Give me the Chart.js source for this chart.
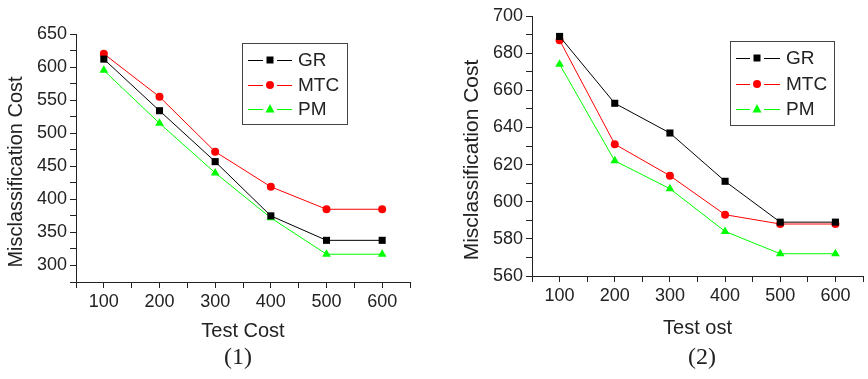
<!DOCTYPE html>
<html>
<head>
<meta charset="utf-8">
<script src="https://cdn.jsdelivr.net/npm/chart.js@4.4.0/dist/chart.umd.min.js"></script>
<style>
  body { margin: 0; background: #fff; }
  .box { position: absolute; top: 0; width: 434px; height: 379px; }
</style>
</head>
<body>
<div class="box" style="left:0"><canvas id="grafico1"></canvas></div>
<div class="box" style="left:434px"><canvas id="grafico2"></canvas></div>
<script>
// data
const testCost = [100, 200, 300, 400, 500, 600];
const seriesNames = ['GR', 'MTC', 'PM'];

const gr1 = [612, 534, 457, 375, 338, 338];
const mtc1 = [620, 555, 472, 419, 385, 385];
const pm1 = [595, 515, 440, 372, 317, 317];

const gr2 = [689, 653, 637, 611, 589, 589];
const mtc2 = [687, 631, 614, 593, 588, 588];
const pm2 = [674, 622, 607, 584, 572, 572];

const yTitle = 'Misclassification Cost';
const xTitle1 = 'Test Cost';
const xTitle2 = 'Test ost';
const caption1 = '(1)';
const caption2 = '(2)';

const colors = ['#000000', '#ff0000', '#00ff00'];
const markers = ['rect', 'circle', 'triangle'];
const ink = '#222';
const sans = "'Liberation Sans', Arial, sans-serif";

function drawMarker(ctx, style, x, y, color) {
    ctx.fillStyle = color;
    ctx.beginPath();
    if (style === 'rect') {
        ctx.rect(x - 3.5, y - 3.5, 7, 7);
    } else if (style === 'circle') {
        ctx.arc(x, y, 4, 0, Math.PI * 2);
    } else {
        ctx.moveTo(x, y - 5);
        ctx.lineTo(x + 4.5, y + 3.5);
        ctx.lineTo(x - 4.5, y + 3.5);
        ctx.closePath();
    }
    ctx.fill();
}

// legend box, y title and caption
const extrasPlugin = {
    id: 'extras',
    afterDraw(chart, args, opts) {
        const ctx = chart.ctx;
        ctx.save();
        // legend
        const b = opts.box;
        ctx.strokeStyle = '#444';
        ctx.lineWidth = 1;
        ctx.strokeRect(b.left + 0.5, b.top + 0.5, b.right - b.left, b.bottom - b.top);
        ctx.font = '19px ' + sans;
        ctx.textBaseline = 'middle';
        ctx.textAlign = 'left';
        chart.data.datasets.forEach((ds, i) => {
            const y = b.rows[i];
            ctx.strokeStyle = ds.borderColor;
            ctx.beginPath();
            ctx.moveTo(b.x0, y + 0.5);
            ctx.lineTo(b.xm - 7, y + 0.5);
            ctx.moveTo(b.xm + 7, y + 0.5);
            ctx.lineTo(b.x1, y + 0.5);
            ctx.stroke();
            drawMarker(ctx, markers[i], b.xm, y, ds.borderColor);
            ctx.fillStyle = ink;
            ctx.fillText(ds.label, b.textX, y + 1);
        });
        // y title
        ctx.fillStyle = ink;
        ctx.font = opts.yFont + 'px ' + sans;
        ctx.textAlign = 'center';
        ctx.translate(opts.yX, opts.yY);
        ctx.rotate(-Math.PI / 2);
        ctx.fillText(yTitle, 0, 0);
        ctx.restore();
        // caption
        ctx.save();
        ctx.fillStyle = ink;
        ctx.font = "24px 'Liberation Serif', 'Times New Roman', serif";
        ctx.textAlign = 'center';
        ctx.textBaseline = 'middle';
        ctx.fillText(opts.caption, opts.capX, opts.capY);
        ctx.restore();
    }
};

function createLineChart(canvasId, seriesList, yMin, yMax, yStep, yLabelStep, xTitle, pad, axisW, axisH, xTitlePad, extras) {
    const ctx = document.getElementById(canvasId).getContext('2d');
    new Chart(ctx, {
        type: 'line',
        data: {
            datasets: seriesList.map((values, i) => ({
                label: seriesNames[i],
                data: testCost.map((c, j) => ({ x: c, y: values[j] })),
                borderColor: colors[i],
                backgroundColor: colors[i],
                borderWidth: 1,
                pointStyle: markers[i],
                pointRadius: i === 1 ? 4 : 5,
                pointBorderWidth: 0,
                fill: false,
                tension: 0
            }))
        },
        options: {
            responsive: true,
            maintainAspectRatio: false,
            animation: false,
            layout: { padding: pad },
            plugins: {
                legend: { display: false },
                tooltip: { enabled: false },
                extras: extras
            },
            scales: {
                x: {
                    type: 'linear',
                    min: 50,
                    max: 650,
                    afterFit: s => { s.height = axisH; },
                    border: { display: true, color: ink, width: 1 },
                    grid: { drawOnChartArea: false, drawTicks: true, tickLength: 6, color: ink },
                    ticks: {
                        stepSize: 50,
                        autoSkip: false,
                        maxRotation: 0,
                        padding: 3,
                        color: ink,
                        font: { family: sans, size: 18 },
                        callback: v => testCost.includes(v) ? String(v) : ''
                    },
                    title: {
                        display: true,
                        text: xTitle,
                        color: ink,
                        font: { family: sans, size: 20 },
                        padding: { top: 0, bottom: xTitlePad }
                    }
                },
                y: {
                    min: yMin,
                    max: yMax,
                    afterFit: s => { s.width = axisW; },
                    border: { display: true, color: ink, width: 1 },
                    grid: { drawOnChartArea: false, drawTicks: true, tickLength: 6, color: ink },
                    ticks: {
                        stepSize: yStep,
                        autoSkip: false,
                        padding: 3,
                        color: ink,
                        font: { family: sans, size: 18 },
                        callback: v => v % yLabelStep === 0 ? String(v) : ''
                    }
                }
            }
        },
        plugins: [extrasPlugin]
    });
}

createLineChart('grafico1', [gr1, mtc1, pm1], 275, 650, 25, 50, xTitle1,
    { top: 34, right: 24, bottom: 0, left: 0 }, 76, 97, 36,
    {
        box: { left: 242, top: 43, right: 347, bottom: 124, rows: [60, 85, 109], x0: 248, xm: 270, x1: 292, textX: 298 },
        yFont: 20, yX: 16, yY: 172,
        caption: caption1, capX: 238, capY: 358
    });

createLineChart('grafico2', [gr2, mtc2, pm2], 560, 700, 10, 20, xTitle2,
    { top: 16, right: 1, bottom: 0, left: 0 }, 98, 103, 39,
    {
        box: { left: 296, top: 41, right: 400, bottom: 125, rows: [58, 84, 109], x0: 302, xm: 323, x1: 346, textX: 352 },
        yFont: 21, yX: 38, yY: 160,
        caption: caption2, capX: 268, capY: 358
    });
</script>
</body>
</html>
